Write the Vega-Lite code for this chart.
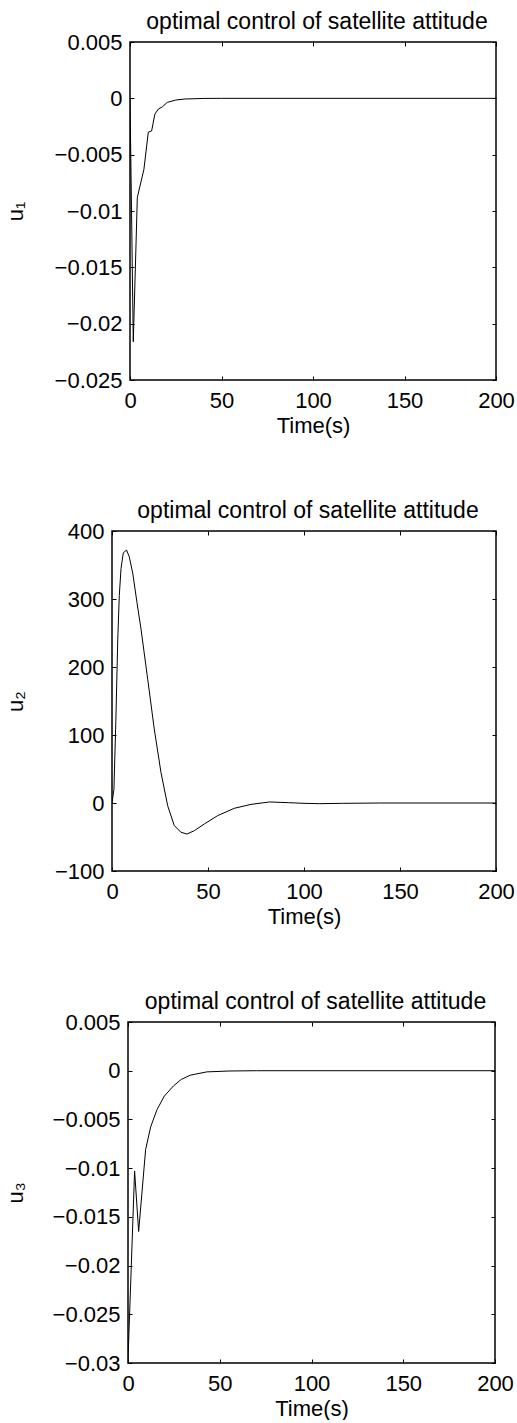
{
  "$schema": "https://vega.github.io/schema/vega-lite/v6.json",
  "background": "white",
  "padding": {"left": -4, "top": 10, "right": 0, "bottom": 0},
  "spacing": 62,
  "config": {
    "font": "Liberation Sans",
    "view": {"stroke": "#000", "strokeWidth": 1.5},
    "axis": {"domain": false, "grid": false, "ticks": true, "tickSize": -4, "tickColor": "#000", "tickWidth": 1,
      "labelFont": "Liberation Sans", "labelFontSize": 22, "labelColor": "#000", "labelFlush": false, "labelOverlap": false,
      "titleFont": "Liberation Sans", "titleFontSize": 22, "titleFontWeight": "normal", "titleColor": "#000"},
    "title": {"font": "Liberation Sans", "fontSize": 23, "fontWeight": "normal", "color": "#000", "offset": -3, "dx": 4}
  },
  "vconcat": [
    {
      "spacing": 0,
      "hconcat": [
        {"width": 1, "height": 1, "data": {"values": [{"a": 0}]}, "mark": {"type": "point", "opacity": 0}, "view": {"stroke": null}},
        {
          "width": 366, "height": 338,
          "title": "optimal control of satellite attitude",
          "data": {"values": [
            {"t": 0, "u": 0}, {"t": 1.8, "u": -0.0216}, {"t": 4, "u": -0.0088}, {"t": 7.6, "u": -0.0063},
            {"t": 10, "u": -0.003}, {"t": 11.8, "u": -0.0029}, {"t": 13.6, "u": -0.0014}, {"t": 15.5, "u": -0.00095},
            {"t": 17.7, "u": -0.00075}, {"t": 20.4, "u": -0.00036}, {"t": 25, "u": -0.00015}, {"t": 30, "u": -0.00006},
            {"t": 40, "u": -0.00001}, {"t": 50, "u": 0}, {"t": 100, "u": 0}, {"t": 200, "u": 0}
          ]},
          "layer": [
            {
              "mark": {"type": "line", "color": "#000", "strokeWidth": 1, "clip": true},
              "encoding": {
                "x": {"field": "t", "type": "quantitative", "scale": {"domain": [0, 200], "nice": false, "zero": false},
                  "axis": {"orient": "bottom", "values": [0, 50, 100, 150, 200], "format": "~r", "labelPadding": 14, "title": "Time(s)", "titlePadding": 4}},
                "y": {"field": "u", "type": "quantitative", "scale": {"domain": [-0.025, 0.005], "nice": false, "zero": false},
                  "axis": {"orient": "left", "values": [0.005, 0, -0.005, -0.01, -0.015, -0.02, -0.025], "format": "~r", "labelPadding": 12,
                    "title": "u₁", "titleX": -107.6, "titleY": 169, "titleBaseline": "alphabetic"}}
              }
            },
            {
              "mark": {"type": "line", "strokeOpacity": 0},
              "encoding": {
                "x": {"field": "t", "type": "quantitative", "axis": {"orient": "top", "values": [0, 50, 100, 150, 200], "labels": false, "title": null}},
                "y": {"field": "u", "type": "quantitative", "axis": {"orient": "right", "values": [0.005, 0, -0.005, -0.01, -0.015, -0.02, -0.025], "labels": false, "title": null}}
              }
            }
          ],
          "resolve": {"axis": {"x": "independent", "y": "independent"}}
        }
      ]
    },
    {
      "spacing": 0,
      "hconcat": [
        {"width": 1, "height": 1, "data": {"values": [{"a": 0}]}, "mark": {"type": "point", "opacity": 0}, "view": {"stroke": null}},
        {
          "width": 384, "height": 340,
          "title": "optimal control of satellite attitude",
          "data": {"values": [
            {"t": 0, "u": 0}, {"t": 1, "u": 20}, {"t": 2, "u": 120}, {"t": 3, "u": 240}, {"t": 3.8, "u": 305},
            {"t": 4.7, "u": 345}, {"t": 5.9, "u": 368}, {"t": 7.6, "u": 372}, {"t": 9, "u": 362}, {"t": 10.8, "u": 338},
            {"t": 13, "u": 295}, {"t": 15.1, "u": 256}, {"t": 18.6, "u": 182}, {"t": 22, "u": 109}, {"t": 25.5, "u": 45},
            {"t": 29, "u": -4}, {"t": 32.4, "u": -33}, {"t": 35.9, "u": -43}, {"t": 39, "u": -45.6}, {"t": 42.9, "u": -40.7},
            {"t": 48, "u": -31}, {"t": 55, "u": -18.6}, {"t": 63.7, "u": -7.8}, {"t": 72.4, "u": -2}, {"t": 82, "u": 1.5},
            {"t": 92, "u": 0.5}, {"t": 100, "u": -0.5}, {"t": 108, "u": -1}, {"t": 120, "u": -0.5}, {"t": 140, "u": 0},
            {"t": 200, "u": 0}
          ]},
          "layer": [
            {
              "mark": {"type": "line", "color": "#000", "strokeWidth": 1, "clip": true},
              "encoding": {
                "x": {"field": "t", "type": "quantitative", "scale": {"domain": [0, 200], "nice": false, "zero": false},
                  "axis": {"orient": "bottom", "values": [0, 50, 100, 150, 200], "format": "~r", "labelPadding": 14, "title": "Time(s)", "titlePadding": 4}},
                "y": {"field": "u", "type": "quantitative", "scale": {"domain": [-100, 400], "nice": false, "zero": false},
                  "axis": {"orient": "left", "values": [400, 300, 200, 100, 0, -100], "format": "~r", "labelPadding": 12,
                    "title": "u₂", "titleX": -89.3, "titleY": 170, "titleBaseline": "alphabetic"}}
              }
            },
            {
              "mark": {"type": "line", "strokeOpacity": 0},
              "encoding": {
                "x": {"field": "t", "type": "quantitative", "axis": {"orient": "top", "values": [0, 50, 100, 150, 200], "labels": false, "title": null}},
                "y": {"field": "u", "type": "quantitative", "axis": {"orient": "right", "values": [400, 300, 200, 100, 0, -100], "labels": false, "title": null}}
              }
            }
          ],
          "resolve": {"axis": {"x": "independent", "y": "independent"}}
        }
      ]
    },
    {
      "spacing": 0,
      "hconcat": [
        {"width": 1, "height": 1, "data": {"values": [{"a": 0}]}, "mark": {"type": "point", "opacity": 0}, "view": {"stroke": null}},
        {
          "width": 367, "height": 341,
          "title": "optimal control of satellite attitude",
          "data": {"values": [
            {"t": 0, "u": -0.0297}, {"t": 3.6, "u": -0.0103}, {"t": 5.8, "u": -0.0165}, {"t": 9.6, "u": -0.0081},
            {"t": 12.3, "u": -0.0058}, {"t": 15.8, "u": -0.004}, {"t": 19.8, "u": -0.0026}, {"t": 24.8, "u": -0.00156},
            {"t": 29, "u": -0.0009}, {"t": 33.9, "u": -0.00046}, {"t": 43, "u": -0.00012}, {"t": 55, "u": -0.00003},
            {"t": 70, "u": 0}, {"t": 200, "u": 0}
          ]},
          "layer": [
            {
              "mark": {"type": "line", "color": "#000", "strokeWidth": 1, "clip": true},
              "encoding": {
                "x": {"field": "t", "type": "quantitative", "scale": {"domain": [0, 200], "nice": false, "zero": false},
                  "axis": {"orient": "bottom", "values": [0, 50, 100, 150, 200], "format": "~r", "labelPadding": 14, "title": "Time(s)", "titlePadding": 4}},
                "y": {"field": "u", "type": "quantitative", "scale": {"domain": [-0.03, 0.005], "nice": false, "zero": false},
                  "axis": {"orient": "left", "values": [0.005, 0, -0.005, -0.01, -0.015, -0.02, -0.025, -0.03], "format": "~r", "labelPadding": 12,
                    "title": "u₃", "titleX": -106, "titleY": 170.5, "titleBaseline": "alphabetic"}}
              }
            },
            {
              "mark": {"type": "line", "strokeOpacity": 0},
              "encoding": {
                "x": {"field": "t", "type": "quantitative", "axis": {"orient": "top", "values": [0, 50, 100, 150, 200], "labels": false, "title": null}},
                "y": {"field": "u", "type": "quantitative", "axis": {"orient": "right", "values": [0.005, 0, -0.005, -0.01, -0.015, -0.02, -0.025, -0.03], "labels": false, "title": null}}
              }
            }
          ],
          "resolve": {"axis": {"x": "independent", "y": "independent"}}
        }
      ]
    }
  ]
}
